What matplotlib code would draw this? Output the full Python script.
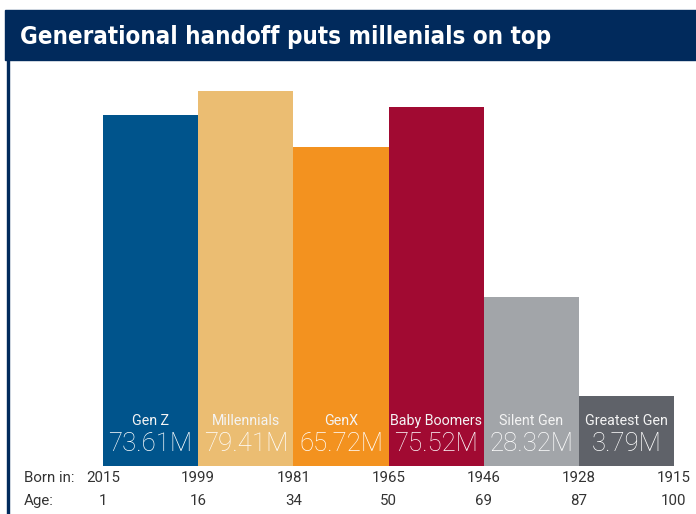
import matplotlib.pyplot as plt
from matplotlib.patches import Rectangle

# Data
generations = ["Gen Z", "Millennials", "GenX", "Baby Boomers", "Silent Gen", "Greatest Gen"]
population_m = [73.61, 79.41, 65.72, 75.52, 28.32, 3.79]
# drawn bar heights as they appear in the graphic (stylized, not to scale)
bar_heights = [74.3, 79.4, 67.6, 76.0, 35.8, 14.8]
born_in = ["2015", "1999", "1981", "1965", "1946", "1928", "1915"]
ages = ["1", "16", "34", "50", "69", "87", "100"]
colors = ["#00548c", "#ebbd72", "#f3921f", "#a10a32", "#a2a5a9", "#5f6269"]

W, H = 696, 514
fig = plt.figure(figsize=(W / 100, H / 100), dpi=100)

# title bar
fig.patches.append(Rectangle((5 / W, 1 - 60 / H), 1 - 5 / W, 50 / H,
                             transform=fig.transFigure, color="#012a5c", zorder=0))
fig.text(20 / W, 1 - 37 / H, "Generational handoff puts millenials on top",
         color="white", fontsize=17.3, fontweight="bold", va="center", ha="left",
         family="DejaVu Sans", fontstretch="condensed")
# left frame line
fig.patches.append(Rectangle((7 / W, 0), 2.2 / W, 1 - 60 / H,
                             transform=fig.transFigure, color="#012a5c", zorder=0))

# bars
ax = fig.add_axes([103 / W, 48 / H, 571 / W, 406 / H])
x = list(range(len(generations)))
ax.bar(x, bar_heights, width=1.0, align="edge", color=colors, linewidth=0)
ax.set_xlim(0, len(generations))
ax.set_ylim(0, 406 / (375 / 79.41))
ax.axis("off")

val_font = ["Roboto", "DejaVu Sans"]
for i, (name, v) in enumerate(zip(generations, population_m)):
    ax.text(i + 0.5, 45 / 4.722, name, color="#f4f4f4", fontsize=10.3,
            ha="center", va="center", family=val_font)
    ax.text(i + 0.5, 22 / 4.722, f"{v:.2f}M", color="white", fontsize=18.5,
            ha="center", va="center", family=val_font, fontweight="light")

# born / age rows
lab = dict(va="center", fontsize=10.8, color="#333333", family=val_font)
for i, (b, a) in enumerate(zip(born_in, ages)):
    ax.text(i, -12 / 4.722, b, ha="center", **lab)
    ax.text(i, -35 / 4.722, a, ha="center", **lab)
fig.text(24 / W, 1 - 478 / H, "Born in:", ha="left", **lab)
fig.text(24 / W, 1 - 501 / H, "Age:", ha="left", **lab)

fig.savefig("out.png", dpi=100)
